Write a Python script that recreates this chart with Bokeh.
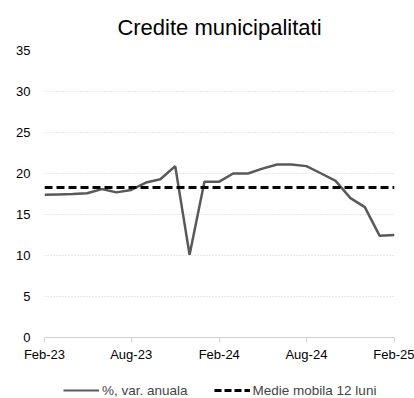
import pandas as pd
from bokeh.plotting import figure
from bokeh.layouts import column
from bokeh.models import Range1d, FixedTicker, DatetimeTickFormatter, Legend, LegendItem, ColumnDataSource
from bokeh.embed import file_html
from bokeh.resources import INLINE

months = ["2023-02", "2023-03", "2023-04", "2023-05", "2023-06", "2023-07", "2023-08",
          "2023-09", "2023-10", "2023-11", "2023-12", "2024-01", "2024-02", "2024-03",
          "2024-04", "2024-05", "2024-06", "2024-07", "2024-08", "2024-09", "2024-10",
          "2024-11", "2024-12", "2025-01", "2025-02"]
var_anuala = [17.4, 17.45, 17.5, 17.6, 18.1, 17.7, 18.0, 18.9, 19.3, 20.9, 10.1, 19.0,
              19.0, 20.0, 20.0, 20.6, 21.1, 21.1, 20.9, 20.0, 19.1, 17.0, 15.9, 12.4, 12.5]
medie_mobila = 18.3
tick_months = ["2023-02", "2023-08", "2024-02", "2024-08", "2025-02"]

dates = pd.to_datetime(months)
src = ColumnDataSource(dict(x=dates, y=var_anuala, m=[medie_mobila] * len(months)))

FONT = "Liberation Sans"
GRAY = "#595959"

p = figure(width=414, height=366, output_backend="svg", toolbar_location=None,
           x_axis_type="datetime",
           x_range=Range1d(dates[0], dates[-1]), y_range=Range1d(0, 35),
           min_border_left=44, min_border_right=20, min_border_top=50, min_border_bottom=29)
p.outline_line_color = None
p.background_fill_color = "white"
p.border_fill_color = "white"

p.title.text = "Credite municipalitati"
p.title.align = "center"
p.title.vertical_align = "top"
p.title.text_font = FONT
p.title.text_font_size = "22px"
p.title.text_font_style = "normal"
p.title.text_color = "#000000"
p.title.standoff = 18

p.line("x", "y", source=src, line_color=GRAY, line_width=2.5)
p.line("x", "m", source=src, line_color="#000000", line_width=3, line_dash="8 4")

p.xgrid.grid_line_color = None
p.ygrid.grid_line_color = "#d0d0d0"
p.ygrid.grid_line_dash = "1 2"
p.ygrid.grid_line_width = 1

p.yaxis.ticker = FixedTicker(ticks=[0, 5, 10, 15, 20, 25, 30, 35])
p.yaxis.axis_line_color = None
p.yaxis.major_tick_line_color = None
p.yaxis.minor_tick_line_color = None
p.yaxis.major_label_text_font = FONT
p.yaxis.major_label_text_font_size = "13px"
p.yaxis.major_label_text_color = "#000000"
p.yaxis.major_label_standoff = 8

tick_ms = [pd.Timestamp(t).timestamp() * 1000 for t in tick_months]
p.xaxis.ticker = FixedTicker(ticks=tick_ms)
p.xaxis.formatter = DatetimeTickFormatter(months="%b-%y", days="%b-%y", years="%b-%y")
p.xaxis.axis_line_color = "#d0d0d0"
p.xaxis.major_tick_line_color = "#d0d0d0"
p.xaxis.major_tick_out = 5
p.xaxis.major_tick_in = 0
p.xaxis.minor_tick_line_color = None
p.xaxis.major_label_text_font = FONT
p.xaxis.major_label_text_font_size = "13px"
p.xaxis.major_label_text_color = "#000000"
p.xaxis.major_label_standoff = 4

# legend strip (separate figure, same styles); its frame is aligned with the chart frame
lg = figure(width=414, height=32, output_backend="svg", toolbar_location=None,
            x_range=Range1d(0, 1), y_range=Range1d(0, 1),
            x_axis_location=None, y_axis_location=None,
            min_border=0, min_border_left=0, min_border_right=0,
            min_border_top=0, min_border_bottom=0)
lg.outline_line_color = None
lg.grid.visible = False
offscreen = ColumnDataSource(dict(x=[5, 6], y=[5, 6]))
r1 = lg.line("x", "y", source=offscreen, line_color=GRAY, line_width=2)
r2 = lg.line("x", "y", source=offscreen, line_color="#000000", line_width=3, line_dash="7 3")
legend = Legend(items=[LegendItem(label="%, var. anuala", renderers=[r1]),
                       LegendItem(label="Medie mobila 12 luni", renderers=[r2])],
                orientation="horizontal", location=(19, 0))
legend.border_line_color = None
legend.background_fill_alpha = 0
legend.label_text_font = FONT
legend.label_text_font_size = "13.5px"
legend.glyph_width = 36
legend.glyph_height = 16
legend.label_standoff = 3
legend.spacing = 26
legend.padding = 0
legend.margin = 0
lg.add_layout(legend, "center")

layout = column(p, lg, spacing=0)
open("out.html", "w").write(file_html(layout, INLINE))
